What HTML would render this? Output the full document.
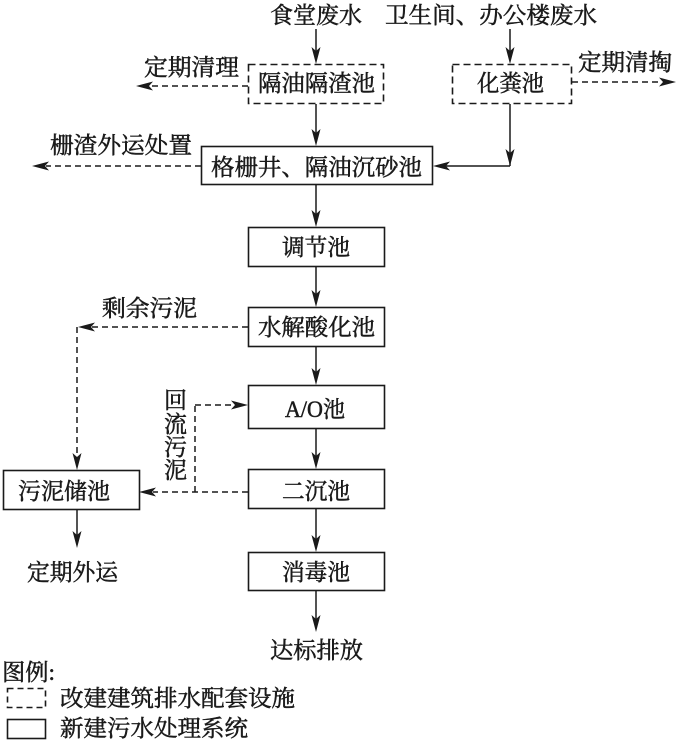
<!DOCTYPE html>
<html><head><meta charset="utf-8">
<style>
html,body{margin:0;padding:0;background:#fff;}
svg{display:block;}
text{font-family:"Liberation Serif","Noto Serif CJK SC","Noto Sans CJK SC",serif;font-size:23px;fill:#1a1a1a;stroke:#1a1a1a;stroke-width:0.5px;}
</style></head>
<body>
<svg width="678" height="742" viewBox="0 0 678 742" xmlns="http://www.w3.org/2000/svg">
<g fill="none" stroke="#1a1a1a" stroke-width="1.6">
  <rect x="248.5" y="64.5" width="135" height="39" stroke-dasharray="7,4"/>
  <rect x="452.5" y="64.5" width="119" height="39" stroke-dasharray="7,4"/>
  <rect x="201.5" y="146.5" width="231" height="38"/>
  <rect x="248.5" y="227.5" width="136" height="39"/>
  <rect x="248.5" y="307.5" width="136" height="39"/>
  <rect x="248.5" y="385.5" width="136" height="43"/>
  <rect x="248.5" y="469.5" width="136" height="39"/>
  <rect x="3.5" y="470.5" width="136" height="39"/>
  <rect x="248.5" y="552.5" width="136" height="38"/>
  <rect x="7.5" y="688.5" width="38" height="19" stroke-dasharray="6,4"/>
  <rect x="7.5" y="719.5" width="38" height="19"/>
</g>
<g fill="none" stroke="#1a1a1a" stroke-width="1.5">
  <line x1="316" y1="29" x2="316" y2="52"/>
  <line x1="510" y1="29" x2="510" y2="52"/>
  <line x1="316" y1="104" x2="316" y2="134"/>
  <line x1="510" y1="104" x2="510" y2="166"/>
  <line x1="510" y1="166" x2="446" y2="166"/>
  <line x1="316" y1="185" x2="316" y2="215"/>
  <line x1="316" y1="267" x2="316" y2="295"/>
  <line x1="316" y1="347" x2="316" y2="373"/>
  <line x1="316" y1="429" x2="316" y2="457"/>
  <line x1="316" y1="509" x2="316" y2="540"/>
  <line x1="316" y1="591" x2="316" y2="620"/>
  <line x1="77" y1="510" x2="77" y2="536"/>
  <g stroke-dasharray="6,4">
    <line x1="248" y1="86" x2="150" y2="86"/>
    <line x1="572" y1="82" x2="662" y2="82"/>
    <line x1="201" y1="166" x2="46" y2="166"/>
    <line x1="248" y1="327" x2="92" y2="327"/>
    <line x1="77" y1="327" x2="77" y2="458"/>
    <line x1="248" y1="492" x2="153" y2="492"/>
    <line x1="195" y1="492" x2="195" y2="405"/>
    <line x1="195" y1="405" x2="234" y2="405"/>
  </g>
</g>
<g fill="#1a1a1a" stroke="none">
  <polygon points="316,64 311.5,47 316,51 320.5,47"/>
  <polygon points="510,64 505.5,47 510,51 514.5,47"/>
  <polygon points="316,146 311.5,129 316,133 320.5,129"/>
  <polygon points="510,166 505.5,149 510,153 514.5,149"/>
  <polygon points="316,227 311.5,210 316,214 320.5,210"/>
  <polygon points="316,307 311.5,290 316,294 320.5,290"/>
  <polygon points="316,385 311.5,368 316,372 320.5,368"/>
  <polygon points="316,469 311.5,452 316,456 320.5,452"/>
  <polygon points="316,552 311.5,535 316,539 320.5,535"/>
  <polygon points="316,632 311.5,615 316,619 320.5,615"/>
  <polygon points="77,470 72.5,453 77,457 81.5,453"/>
  <polygon points="77,548 72.5,531 77,535 81.5,531"/>
  <polygon points="433,166 450,161.5 446,166 450,170.5"/>
  <polygon points="136,86 153,81.5 149,86 153,90.5"/>
  <polygon points="32,166 49,161.5 45,166 49,170.5"/>
  <polygon points="78,327 95,322.5 91,327 95,331.5"/>
  <polygon points="139,492 156,487.5 152,492 156,496.5"/>
  <polygon points="676,82 659,77.5 663,82 659,86.5"/>
  <polygon points="248,405 231,400.5 235,405 231,409.5"/>
</g>
<g>
  <text x="270" y="23" textLength="92" lengthAdjust="spacingAndGlyphs">食堂废水</text>
  <text x="385" y="23" textLength="212" lengthAdjust="spacingAndGlyphs">卫生间、办公楼废水</text>
  <text x="144" y="75" textLength="95" lengthAdjust="spacingAndGlyphs">定期清理</text>
  <text x="578" y="70" textLength="94" lengthAdjust="spacingAndGlyphs">定期清掏</text>
  <text x="258" y="91" textLength="117" lengthAdjust="spacingAndGlyphs">隔油隔渣池</text>
  <text x="477" y="91" textLength="67" lengthAdjust="spacingAndGlyphs">化粪池</text>
  <text x="50" y="153" textLength="142" lengthAdjust="spacingAndGlyphs">栅渣外运处置</text>
  <text x="211" y="175" textLength="211" lengthAdjust="spacingAndGlyphs">格栅井、隔油沉砂池</text>
  <text x="282" y="255" textLength="68" lengthAdjust="spacingAndGlyphs">调节池</text>
  <text x="258" y="335" textLength="117" lengthAdjust="spacingAndGlyphs">水解酸化池</text>
  <text x="102" y="316" textLength="95" lengthAdjust="spacingAndGlyphs">剩余污泥</text>
  <text x="285" y="417" textLength="60" lengthAdjust="spacingAndGlyphs">A/O池</text>
  <text x="282" y="499" textLength="68" lengthAdjust="spacingAndGlyphs">二沉池</text>
  <text x="18" y="499" textLength="92" lengthAdjust="spacingAndGlyphs">污泥储池</text>
  <text x="164" y="408">回</text>
  <text x="164" y="432">流</text>
  <text x="164" y="455">污</text>
  <text x="164" y="478">泥</text>
  <text x="27" y="580" textLength="91" lengthAdjust="spacingAndGlyphs">定期外运</text>
  <text x="282" y="580" textLength="68" lengthAdjust="spacingAndGlyphs">消毒池</text>
  <text x="270" y="658" textLength="93" lengthAdjust="spacingAndGlyphs">达标排放</text>
  <text x="2" y="680" textLength="53" lengthAdjust="spacingAndGlyphs">图例:</text>
  <text x="60" y="706" textLength="235" lengthAdjust="spacingAndGlyphs">改建建筑排水配套设施</text>
  <text x="60" y="736" textLength="188" lengthAdjust="spacingAndGlyphs">新建污水处理系统</text>
</g>
</svg>
</body></html>
